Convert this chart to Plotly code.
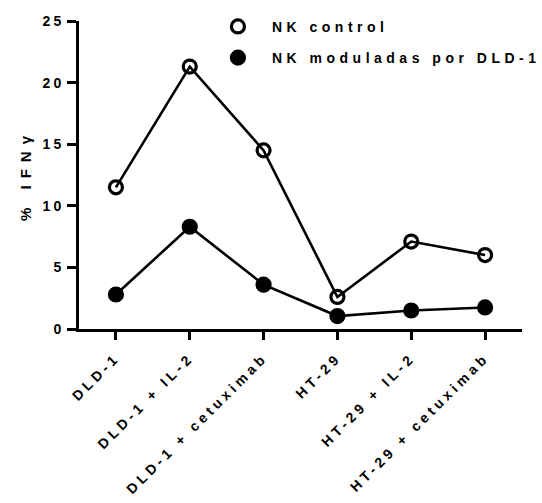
import plotly.graph_objects as go

categories = ["DLD-1", "DLD-1 + IL-2", "DLD-1 + cetuximab",
              "HT-29", "HT-29 + IL-2", "HT-29 + cetuximab"]
nk_control = [11.5, 21.3, 14.5, 2.6, 7.1, 6.0]
nk_moduladas = [2.8, 8.3, 3.6, 1.05, 1.5, 1.75]
y_ticks = [0, 5, 10, 15, 20, 25]

FONT = "Liberation Sans, Arial, sans-serif"
W, H = 542, 503

series = [
    ("NK control", nk_control, "circle-open", "g1"),
    ("NK moduladas por DLD-1", nk_moduladas, "circle", "g2"),
]

fig = go.Figure()
for name, values, symbol, group in series:
    marker = dict(symbol=symbol, size=13, color="black",
                  line=dict(width=3.2, color="black"))
    # data line with markers
    fig.add_trace(go.Scatter(
        x=categories, y=values, name=name, mode="lines+markers",
        line=dict(color="black", width=2.6), marker=marker,
        showlegend=False, legendgroup=group,
    ))
    # marker-only legend entry
    fig.add_trace(go.Scatter(
        x=[None], y=[None], name=name, mode="markers", marker=marker,
        showlegend=True, legendgroup=group,
    ))

fig.update_layout(
    width=W, height=H,
    margin=dict(l=79, r=20, t=21, b=174, autoexpand=False),
    paper_bgcolor="white", plot_bgcolor="white",
    font=dict(family=FONT, color="black", size=14, weight="bold"),
    showlegend=True,
    legend=dict(x=0.282, y=1.033, xanchor="left", yanchor="top",
                bgcolor="rgba(0,0,0,0)", traceorder="grouped",
                tracegroupgap=10, itemwidth=58,
                font=dict(size=14, family=FONT, weight="bold")),
)
fig.update_xaxes(
    type="category", range=[-0.5, 5.5],
    showline=True, linecolor="black", linewidth=3,
    ticks="outside", ticklen=8, tickwidth=2.5, tickcolor="black",
    tickangle=-45, ticklabelstandoff=4,
    tickfont=dict(size=14, family=FONT, weight="bold"),
    showgrid=False, zeroline=False,
)
fig.update_yaxes(
    range=[0, 25], tickvals=y_ticks,
    showline=True, linecolor="black", linewidth=3,
    ticks="outside", ticklen=9, tickwidth=2.5, tickcolor="black",
    tickfont=dict(size=14, family=FONT, weight="bold"),
    showgrid=False, zeroline=False,
    title=dict(text="% IFNγ", font=dict(size=15, family=FONT, weight="bold"),
               standoff=14),
)

# wide letter spacing for all labels; legend text may run past its box
spacing_css = """
var st = document.createElement('style');
st.textContent = '.xtick text {letter-spacing: 3.9px;}'
  + ' .legendtext {letter-spacing: 4.5px;}'
  + ' .ytitle {letter-spacing: 7px;}'
  + ' .ytick text {letter-spacing: 3px;}'
  + ' .legend, .legend * {clip-path: none !important;}';
document.head.appendChild(st);
"""

fig.write_html("out.html", post_script=spacing_css)
